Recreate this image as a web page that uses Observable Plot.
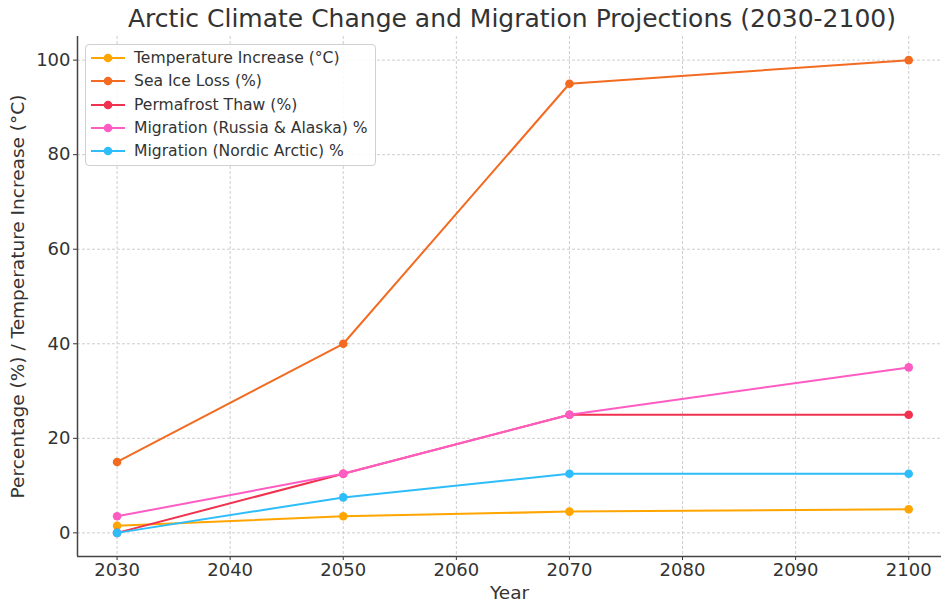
<!DOCTYPE html>
<html>
<head>
<meta charset="utf-8">
<script src="https://cdn.jsdelivr.net/npm/d3@7"></script>
<script src="https://cdn.jsdelivr.net/npm/@observablehq/plot@0.6"></script>
<style>
  body { margin: 0; background: #fff; font-family: "DejaVu Sans", sans-serif; }
  #wrap { position: relative; width: 942px; height: 604px; }
  #title { position: absolute; left: 77px; width: 870px; top: 4px; text-align: center; font-size: 25px; color: #333; }
  #chart { position: absolute; left: 0; top: 30px; }
  #legend { position: absolute; left: 85px; top: 44px; width: 291px; height: 122px; border: 1px solid #d0d0d0; border-radius: 4px; background: rgba(255,255,255,0.85); box-sizing: border-box; }
  .item { position: absolute; left: 0; height: 20px; font-size: 15.6px; color: #333; white-space: nowrap; }
  .item svg { position: absolute; left: 4px; top: 2px; }
  .item span { position: absolute; left: 48px; top: 0; line-height: 20px; }
</style>
</head>
<body>
<div id="wrap">
  <div id="title">Arctic Climate Change and Migration Projections (2030-2100)</div>
  <div id="chart"></div>
  <div id="legend"></div>
</div>
<script>
const years = [2030, 2050, 2070, 2100];
const temperature = [1.5, 3.5, 4.5, 5];
const seaIce = [15, 40, 95, 100];
const permafrost = [0, 12.5, 25, 25];
const migRussia = [3.5, 12.5, 25, 35];
const migNordic = [0, 7.5, 12.5, 12.5];
const seriesNames = ["Temperature Increase (°C)", "Sea Ice Loss (%)", "Permafrost Thaw (%)", "Migration (Russia & Alaska) %", "Migration (Nordic Arctic) %"];
const seriesColors = ["#ffa500", "#f26b21", "#f0324f", "#ff5cc3", "#2ebdfb"];
const xTicks = [2030, 2040, 2050, 2060, 2070, 2080, 2090, 2100];
const yTicks = [0, 20, 40, 60, 80, 100];

const allValues = [temperature, seaIce, permafrost, migRussia, migNordic];
const data = [];
allValues.forEach((vals, i) => vals.forEach((v, j) => data.push({series: seriesNames[i], year: years[j], value: v})));

const xDomain = [2026.5, 2102.9];
const yDomain = [-5, 105];

const marks = [
  Plot.gridX(xTicks, {stroke: "#c8c8c8", strokeOpacity: 1, strokeDasharray: "3,2", strokeWidth: 0.9}),
  Plot.gridY(yTicks, {stroke: "#c8c8c8", strokeOpacity: 1, strokeDasharray: "3,2", strokeWidth: 0.9}),
  Plot.axisX(xTicks, {tickFormat: d => String(d), tickSize: 4, tickPadding: 3, fontSize: 18, color: "#333", label: null}),
  Plot.axisY(yTicks, {tickSize: 4, tickPadding: 3, fontSize: 18, color: "#333", label: null}),
  Plot.ruleX([xDomain[0]], {stroke: "#444", strokeWidth: 1.5}),
  Plot.ruleY([yDomain[0]], {stroke: "#444", strokeWidth: 1.5}),
];
seriesNames.forEach((name, i) => {
  const d = data.filter(r => r.series === name);
  marks.push(Plot.line(d, {x: "year", y: "value", stroke: seriesColors[i], strokeWidth: 2}));
  marks.push(Plot.dot(d, {x: "year", y: "value", fill: seriesColors[i], r: 4.3}));
});
marks.push(Plot.text(["Year"], {frameAnchor: "bottom", dy: 42, fontSize: 18.5, fill: "#333", text: d => d}));
marks.push(Plot.text(["Percentage (%) / Temperature Increase (°C)"], {frameAnchor: "left", textAnchor: "middle", dx: -59, rotate: -90, fontSize: 18.5, fill: "#333", text: d => d}));

const chart = Plot.plot({
  width: 942,
  height: 574,
  marginTop: 6,
  marginBottom: 48,
  marginLeft: 77,
  marginRight: 1,
  style: {fontFamily: "DejaVu Sans, sans-serif", background: "transparent", overflow: "visible"},
  x: {domain: xDomain, type: "linear"},
  y: {domain: yDomain},
  marks
});
document.getElementById("chart").appendChild(chart);

const legend = document.getElementById("legend");
seriesNames.forEach((name, i) => {
  const it = document.createElement("div");
  it.className = "item";
  it.style.top = (3 + i * 23.3) + "px";
  it.innerHTML = `<svg width="36" height="16"><line x1="1" y1="8" x2="35" y2="8" stroke="${seriesColors[i]}" stroke-width="2"/><circle cx="18" cy="8" r="4.3" fill="${seriesColors[i]}"/></svg><span>${name}</span>`;
  legend.appendChild(it);
});
</script>
</body>
</html>
